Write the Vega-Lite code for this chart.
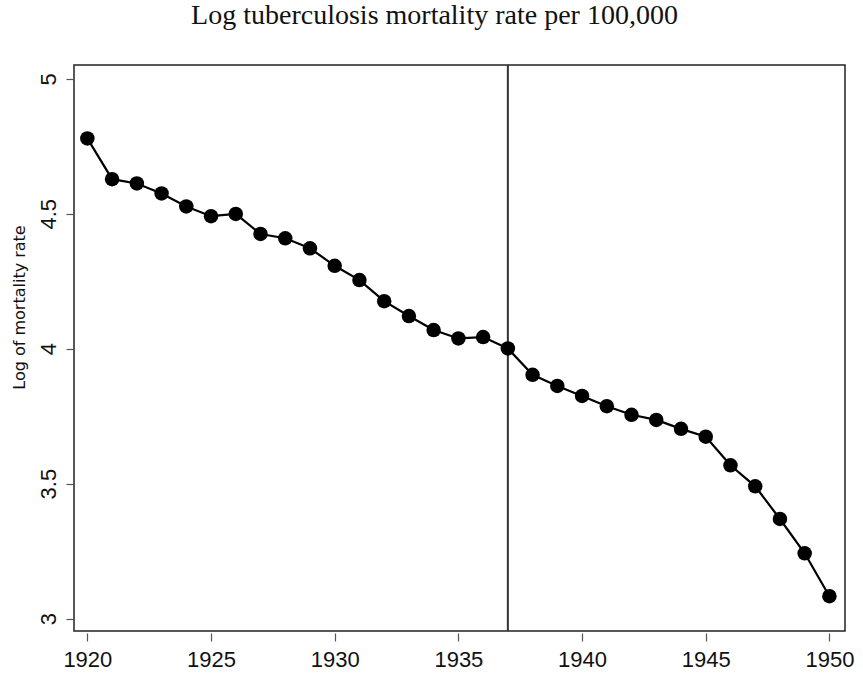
{
  "$schema": "https://vega.github.io/schema/vega-lite/v6.json",
  "autosize": {"type": "none"},
  "padding": {"left": 74, "top": 65, "right": 18, "bottom": 46},
  "width": 771,
  "height": 566,
  "background": "white",
  "config": {
    "view": {"stroke": "#222", "strokeWidth": 1.5},
    "axis": {"grid": false, "labelFont": "Liberation Sans", "titleFont": "DejaVu Sans", "labelColor": "#111", "titleColor": "#111", "tickColor": "#555", "tickWidth": 1.2, "domain": false}
  },
  "title": {
    "text": "Log tuberculosis mortality rate per 100,000",
    "font": "Liberation Serif",
    "fontSize": 28,
    "fontWeight": "normal",
    "color": "#111",
    "anchor": "middle",
    "dx": -25,
    "offset": 34
  },
  "data": {
    "values": [
      {"year": 1920, "lograte": 4.779},
      {"year": 1921, "lograte": 4.628},
      {"year": 1922, "lograte": 4.612},
      {"year": 1923, "lograte": 4.575},
      {"year": 1924, "lograte": 4.527},
      {"year": 1925, "lograte": 4.491},
      {"year": 1926, "lograte": 4.499},
      {"year": 1927, "lograte": 4.425},
      {"year": 1928, "lograte": 4.409},
      {"year": 1929, "lograte": 4.372},
      {"year": 1930, "lograte": 4.307},
      {"year": 1931, "lograte": 4.254},
      {"year": 1932, "lograte": 4.176},
      {"year": 1933, "lograte": 4.121},
      {"year": 1934, "lograte": 4.069},
      {"year": 1935, "lograte": 4.038},
      {"year": 1936, "lograte": 4.043},
      {"year": 1937, "lograte": 4.001},
      {"year": 1938, "lograte": 3.903},
      {"year": 1939, "lograte": 3.862},
      {"year": 1940, "lograte": 3.825},
      {"year": 1941, "lograte": 3.787},
      {"year": 1942, "lograte": 3.755},
      {"year": 1943, "lograte": 3.736},
      {"year": 1944, "lograte": 3.703},
      {"year": 1945, "lograte": 3.674},
      {"year": 1946, "lograte": 3.568},
      {"year": 1947, "lograte": 3.490},
      {"year": 1948, "lograte": 3.369},
      {"year": 1949, "lograte": 3.242},
      {"year": 1950, "lograte": 3.083}
    ]
  },
  "layer": [
    {
      "data": {"values": [{"cut": 1937}]},
      "mark": {"type": "rule", "color": "#333", "strokeWidth": 2},
      "encoding": {"x": {"field": "cut", "type": "quantitative"}}
    },
    {
      "mark": {"type": "line", "color": "black", "strokeWidth": 2.2},
      "encoding": {
        "x": {"field": "year", "type": "quantitative"},
        "y": {"field": "lograte", "type": "quantitative"}
      }
    },
    {
      "mark": {"type": "circle", "color": "black", "opacity": 1, "size": 210},
      "encoding": {
        "x": {
          "field": "year", "type": "quantitative",
          "scale": {"domain": [1919.46, 1950.63], "nice": false, "zero": false},
          "axis": {"title": null, "values": [1920, 1925, 1930, 1935, 1940, 1945, 1950], "format": "d", "labelFontSize": 22, "tickSize": 8, "offset": 2, "labelPadding": 8}
        },
        "y": {
          "field": "lograte", "type": "quantitative",
          "scale": {"domain": [2.954, 5.051], "nice": false, "zero": false},
          "axis": {"title": "Log of mortality rate", "values": [3, 3.5, 4, 4.5, 5], "format": "~g", "labelFontSize": 22, "labelAngle": -90, "labelAlign": "center", "labelBaseline": "bottom", "labelPadding": 6, "tickSize": 8, "titleFontSize": 16, "titleFontWeight": "normal", "titleAngle": -90, "titleAlign": "center", "titleBaseline": "middle", "titleX": -55, "titleY": 242}
        }
      }
    }
  ]
}
